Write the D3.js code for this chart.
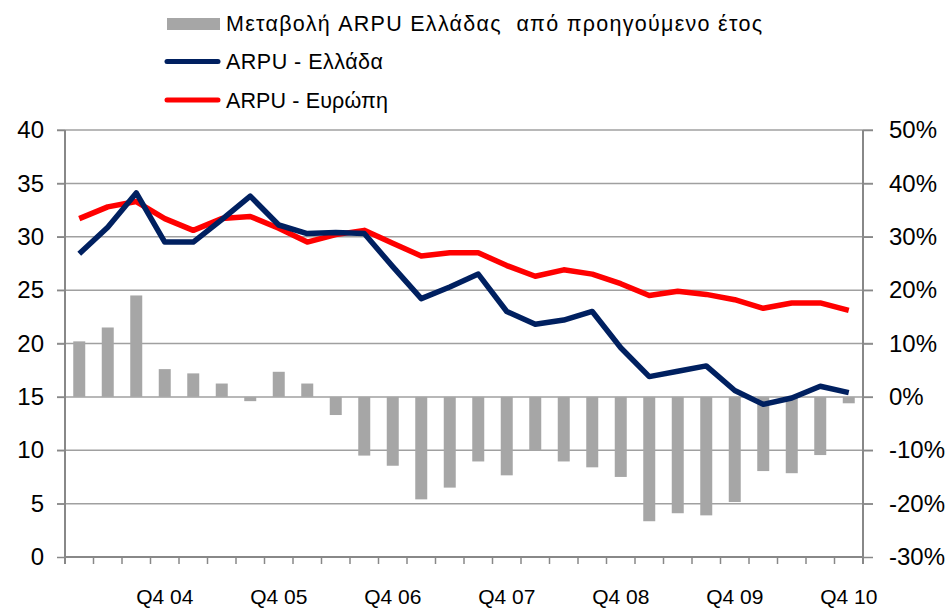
<!DOCTYPE html>
<html>
<head>
<meta charset="utf-8">
<script src="https://cdn.jsdelivr.net/npm/d3@7"></script>
<style>
  body { margin: 0; background: white; }
  text { font-family: "Liberation Sans", Arial, sans-serif; fill: #000; }
</style>
</head>
<body>
<div id="chart"></div>
<script>
var w = 947;
var h = 610;

// quarters Q1 04 .. Q4 10
var quarters = [];
var years = ["04", "05", "06", "07", "08", "09", "10"];
years.forEach(function(y) {
  ["Q1", "Q2", "Q3", "Q4"].forEach(function(q) { quarters.push(q + " " + y); });
});

// ARPU Greece (left axis)
var arpuGreece = [28.4, 30.9, 34.1, 29.5, 29.5, 31.6, 33.8, 31.1, 30.3, 30.4, 30.3, 27.2, 24.2, 25.3,
                  26.5, 23.0, 21.8, 22.2, 23.0, 19.6, 16.9, 17.4, 17.9, 15.6, 14.3, 14.9, 16.0, 15.4];
// ARPU Europe (left axis)
var arpuEurope = [31.7, 32.8, 33.3, 31.7, 30.6, 31.7, 31.9, 30.8, 29.5, 30.2, 30.6, 29.4, 28.2, 28.5,
                  28.5, 27.3, 26.3, 26.9, 26.5, 25.6, 24.5, 24.9, 24.6, 24.1, 23.3, 23.8, 23.8, 23.1];
// yearly change of Greek ARPU (right axis, %)
var changeGreece = [10.4, 13.0, 19.0, 5.2, 4.4, 2.5, -0.8, 4.7, 2.5, -3.4, -11.0, -12.9, -19.2, -17.0,
                    -12.1, -14.7, -10.1, -12.1, -13.2, -15.0, -23.3, -21.8, -22.2, -19.7, -13.9, -14.3, -10.9, -1.2];

var leftTicks = [0, 5, 10, 15, 20, 25, 30, 35, 40];
var rightTicks = [-30, -20, -10, 0, 10, 20, 30, 40, 50];

var legendItems = [
  { label: "Μεταβολή ARPU Ελλάδας  από προηγούμενο έτος", type: "bar", color: "#a6a6a6", len: 536 },
  { label: "ARPU - Ελλάδα", type: "line", color: "#002060", len: 157 },
  { label: "ARPU - Ευρώπη", type: "line", color: "#ff0000", len: 162 }
];

var svg = d3.select("#chart").append("svg")
  .attr("width", w)
  .attr("height", h);

var mLeft = 65, mRight = 863, mTop = 130, mBottom = 557;

var x = d3.scaleBand().domain(quarters).range([mLeft, mRight]);
var yL = d3.scaleLinear().domain([0, 40]).range([mBottom, mTop]);
var yR = d3.scaleLinear().domain([-30, 50]).range([mBottom, mTop]);

// gridlines
svg.append("g").selectAll("line")
  .data(leftTicks.slice(1))
  .enter().append("line")
  .attr("x1", mLeft - 8).attr("x2", mRight + 10)
  .attr("y1", function(d) { return yL(d); })
  .attr("y2", function(d) { return yL(d); })
  .attr("stroke", "#a0a0a0")
  .attr("stroke-width", 1.5);

// bars
svg.append("g").selectAll("rect")
  .data(changeGreece)
  .enter().append("rect")
  .attr("x", function(d, i) { return x(quarters[i]) + x.bandwidth() / 2 - 6; })
  .attr("width", 12)
  .attr("y", function(d) { return yR(Math.max(d, 0)); })
  .attr("height", function(d) { return Math.abs(yR(d) - yR(0)); })
  .attr("fill", "#a6a6a6");

// left axis
var axL = svg.append("g")
  .attr("transform", "translate(" + mLeft + ",0)")
  .call(d3.axisLeft(yL).tickValues(leftTicks).tickSize(8).tickPadding(13));
// right axis
var axR = svg.append("g")
  .attr("transform", "translate(" + mRight + ",0)")
  .call(d3.axisRight(yR).tickValues(rightTicks).tickSize(10).tickPadding(16)
    .tickFormat(function(d) { return d + "%"; }));
// bottom axis
var axB = svg.append("g")
  .attr("transform", "translate(0," + mBottom + ")")
  .call(d3.axisBottom(x).tickSize(7).tickPadding(25)
    .tickFormat(function(d) { return d.indexOf("Q4") === 0 ? d : ""; }));

axB.selectAll(".tick line")
  .attr("transform", "translate(" + (x.bandwidth() / 2) + ",0)");

[axL, axR, axB].forEach(function(a) {
  a.select(".domain").attr("stroke", "#888").attr("stroke-width", 2);
  a.selectAll(".tick line").attr("stroke", "#888").attr("stroke-width", 1.5);
  a.selectAll("text").attr("font-size", 24).attr("fill", "#000");
  a.attr("font-family", null);
});
axB.selectAll("text").attr("font-size", 21);
axL.select(".domain").attr("d", "M0," + mTop + "V" + (mBottom + 7));
axR.select(".domain").attr("d", "M0," + mTop + "V" + (mBottom + 7));
axB.select(".domain").attr("d", "M" + mLeft + ",0H" + mRight + "M" + mLeft + ",0V7");

// lines
var line = d3.line()
  .x(function(d, i) { return x(quarters[i]) + x.bandwidth() / 2; })
  .y(function(d) { return yL(d); });

svg.append("path").datum(arpuEurope)
  .attr("d", line).attr("fill", "none")
  .attr("stroke", "#ff0000").attr("stroke-width", 5.5).attr("stroke-linejoin", "round");
svg.append("path").datum(arpuGreece)
  .attr("d", line).attr("fill", "none")
  .attr("stroke", "#002060").attr("stroke-width", 5.5).attr("stroke-linejoin", "round");

// legend
var lg = svg.append("g").selectAll("g")
  .data(legendItems)
  .enter().append("g")
  .attr("transform", function(d, i) { return "translate(165," + (23 + i * 38.5) + ")"; });
lg.filter(function(d) { return d.type === "bar"; }).append("rect")
  .attr("x", 2).attr("y", -5).attr("width", 53).attr("height", 12)
  .attr("fill", function(d) { return d.color; });
lg.filter(function(d) { return d.type === "line"; }).append("line")
  .attr("x1", 2).attr("x2", 53).attr("y1", 0).attr("y2", 0)
  .attr("stroke", function(d) { return d.color; })
  .attr("stroke-width", 5).attr("stroke-linecap", "round");
lg.append("text")
  .attr("x", 61).attr("dy", "0.36em")
  .attr("font-size", 21.5)
  .attr("textLength", function(d) { return d.len; })
  .attr("lengthAdjust", "spacing")
  .style("white-space", "pre")
  .text(function(d) { return d.label; });
</script>
</body>
</html>
